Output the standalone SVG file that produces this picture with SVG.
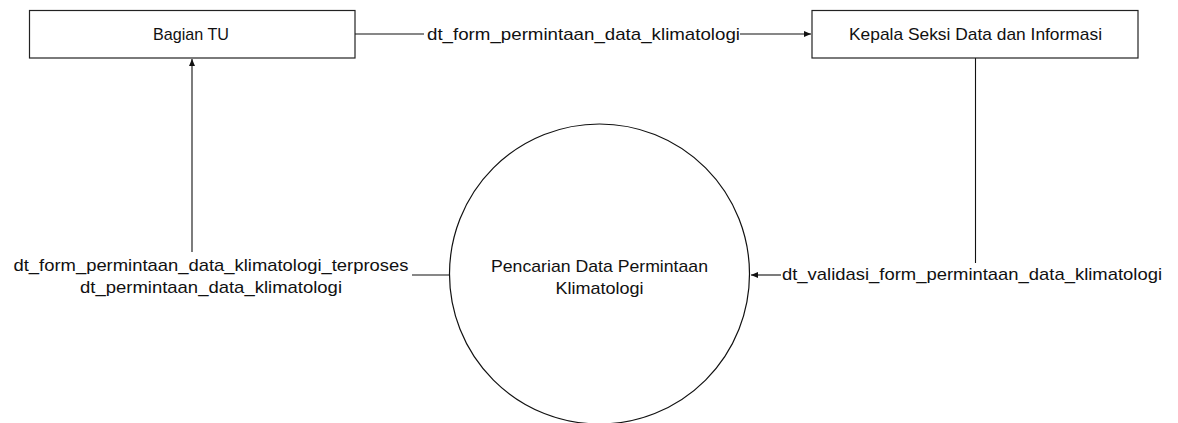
<svg xmlns="http://www.w3.org/2000/svg" width="1178" height="423" viewBox="0 0 1178 423">
<style>
.box{fill:#fff;stroke:#222;stroke-width:1.2}
.proc{fill:#fff;stroke:#111;stroke-width:1.2}
.ln{fill:none;stroke:#111;stroke-width:1.1}
text{font-family:"Liberation Sans",Arial,sans-serif;font-size:17px;fill:#111}
.c{text-anchor:middle}
</style>
<defs>
<marker id="ah" markerWidth="8" markerHeight="6" refX="7" refY="3" orient="auto" markerUnits="userSpaceOnUse">
<path d="M0,0 L7,3 L0,6 Z" fill="#111"/>
</marker>
</defs>
<rect width="1178" height="423" fill="#fff"/>
<g id="connectors">
<line class="ln" x1="355" y1="34" x2="424" y2="34"/>
<line class="ln" x1="740" y1="34" x2="811" y2="34" marker-end="url(#ah)"/>
<line class="ln" x1="192" y1="252" x2="192" y2="59" marker-end="url(#ah)"/>
<line class="ln" x1="412" y1="275" x2="449" y2="275"/>
<line class="ln" x1="975.5" y1="58" x2="975.5" y2="263"/>
<line class="ln" x1="781" y1="275" x2="751" y2="275" marker-end="url(#ah)"/>
<text x="427" y="40" textLength="313" lengthAdjust="spacingAndGlyphs">dt_form_permintaan_data_klimatologi</text>
<text class="c" x="211" y="271" textLength="395" lengthAdjust="spacingAndGlyphs">dt_form_permintaan_data_klimatologi_terproses</text>
<text class="c" x="211" y="293" textLength="262" lengthAdjust="spacingAndGlyphs">dt_permintaan_data_klimatologi</text>
<text x="782" y="280" textLength="380" lengthAdjust="spacingAndGlyphs">dt_validasi_form_permintaan_data_klimatologi</text>
</g>
<g id="bagian-tu">
<rect class="box" x="29.5" y="10.5" width="325.5" height="47.5"/>
<text class="c" x="191" y="40" textLength="76" lengthAdjust="spacingAndGlyphs">Bagian TU</text>
</g>
<g id="kepala-seksi">
<rect class="box" x="812" y="10.5" width="326" height="47.5"/>
<text class="c" x="975.5" y="40" textLength="253" lengthAdjust="spacingAndGlyphs">Kepala Seksi Data dan Informasi</text>
</g>
<g id="pencarian">
<circle class="proc" cx="599.5" cy="274" r="150"/>
<text class="c" x="599.5" y="271.5" textLength="217" lengthAdjust="spacingAndGlyphs">Pencarian Data Permintaan</text>
<text class="c" x="599.5" y="294" textLength="88" lengthAdjust="spacingAndGlyphs">Klimatologi</text>
</g>
</svg>
